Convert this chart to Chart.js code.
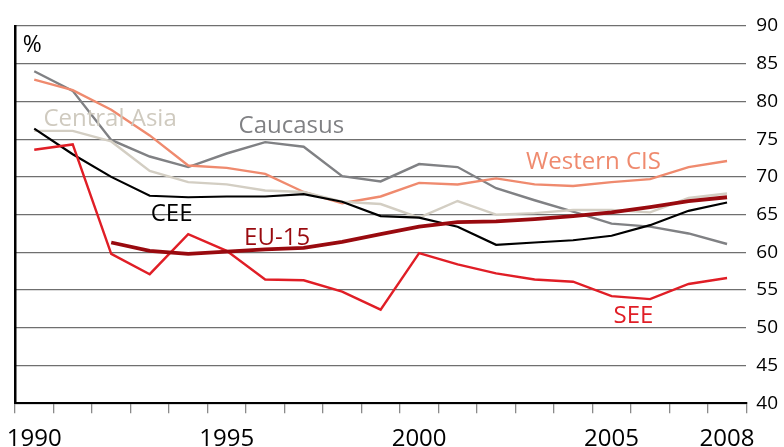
<!DOCTYPE html>
<html>
<head>
<meta charset="utf-8">
<script src="https://cdn.jsdelivr.net/npm/chart.js@4/dist/chart.umd.min.js"></script>
<style>
  html, body { margin: 0; padding: 0; background: #fff; overflow: hidden; }
  /* canvas is a bit larger than the window; the bottom/right overflow is cut like in the original */
  #wrap { width: 784px; height: 447px; overflow: hidden; }
</style>
</head>
<body>
<div id="wrap"><canvas id="myChart" width="794" height="466"></canvas></div>
<script>
const years = ['1990','1991','1992','1993','1994','1995','1996','1997','1998','1999',
               '2000','2001','2002','2003','2004','2005','2006','2007','2008'];
const shownYears = ['1990','1995','2000','2005','2008'];

const caucasus    = [84.0,81.4,74.9,72.7,71.3,73.1,74.6,74.0,70.1,69.4,71.7,71.3,68.5,66.9,65.4,63.8,63.4,62.5,61.1];
const westernCIS  = [82.9,81.5,78.9,75.5,71.5,71.2,70.4,68.0,66.5,67.4,69.2,69.0,69.8,69.0,68.8,69.3,69.7,71.3,72.1];
const centralAsia = [76.1,76.1,74.7,70.8,69.3,69.0,68.2,68.0,66.7,66.4,64.6,66.8,65.0,65.2,65.6,65.6,65.3,67.2,67.8];
const cee         = [76.4,73.0,70.0,67.5,67.3,67.4,67.4,67.7,66.7,64.8,64.6,63.4,61.0,61.3,61.6,62.2,63.6,65.5,66.6];
const eu15        = [null,null,61.3,60.2,59.8,60.1,60.4,60.6,61.4,62.4,63.4,64.0,64.1,64.4,64.8,65.3,66.0,66.8,67.3];
const see         = [73.6,74.3,59.8,57.1,62.4,60.2,56.4,56.3,54.8,52.4,59.9,58.4,57.2,56.4,56.1,54.2,53.8,55.8,56.6];

// series name labels, placed in data units (category index, value at text baseline)
const seriesLabels = [
  { text: 'Central Asia', x: 1.97,  y: 76.74, color: '#cfcabf' },
  { text: 'Caucasus',     x: 6.68,  y: 75.81, color: '#808184' },
  { text: 'CEE',          x: 3.57,  y: 64.14, color: '#000000' },
  { text: 'EU-15',        x: 6.31,  y: 60.96, color: '#990a0f' },
  { text: 'Western CIS',  x: 14.53, y: 71.03, color: '#ef8a6e' },
  { text: 'SEE',          x: 15.57, y: 50.61, color: '#e01e26' }
];

const FONT = "'Open Sans', sans-serif";

const labelPlugin = {
  id: 'seriesLabels',
  afterDatasetsDraw(chart) {
    const ctx = chart.ctx;
    const xs = chart.scales.x, ys = chart.scales.y;
    ctx.save();
    ctx.font = '24px ' + FONT;
    ctx.textAlign = 'center';
    ctx.textBaseline = 'alphabetic';
    seriesLabels.forEach(l => {
      ctx.fillStyle = l.color;
      ctx.fillText(l.text, xs.getPixelForValue(l.x), ys.getPixelForValue(l.y));
    });
    // unit label in the top-left corner
    ctx.fillStyle = '#000';
    ctx.font = '23px ' + FONT;
    ctx.fillText('%', xs.getPixelForValue(-0.05), ys.getPixelForValue(86.55));
    ctx.restore();
  }
};

const line = (data, color, width) => ({
  data: data,
  borderColor: color,
  backgroundColor: color,
  borderWidth: width,
  pointRadius: 0,
  tension: 0,
  spanGaps: false
});

new Chart(document.getElementById('myChart'), {
  type: 'line',
  data: {
    labels: years,
    datasets: [
      line(eu15, '#990a0f', 3.8),
      line(see, '#e01e26', 2.4),
      line(cee, '#000000', 2.2),
      line(centralAsia, '#d3cec3', 2.4),
      line(westernCIS, '#ef8a6e', 2.4),
      line(caucasus, '#808184', 2.4)
    ]
  },
  options: {
    responsive: false,
    animation: false,
    layout: { padding: { left: 15, right: 6, top: 26, bottom: 0 } },
    plugins: { legend: { display: false }, tooltip: { enabled: false } },
    scales: {
      x: {
        offset: true,
        grid: { offset: true, drawOnChartArea: false, drawTicks: true, tickLength: 10, color: '#8a8a8a', lineWidth: 1.3 },
        border: { color: '#000', width: 2 },
        ticks: {
          autoSkip: false, maxRotation: 0, padding: 3, color: '#000',
          font: { family: FONT, size: 24, lineHeight: 1.95 },
          callback: function (v) {
            const y = this.getLabelForValue(v);
            return shownYears.includes(y) ? y : '';
          }
        }
      },
      y: {
        position: 'right',
        min: 40, max: 90,
        grid: { color: '#6f6f6f', lineWidth: 1.2, drawTicks: false },
        border: { display: false },
        ticks: { stepSize: 5, padding: 10, color: '#000', font: { family: FONT, size: 19 } }
      },
      yl: {
        position: 'left',
        min: 40, max: 90,
        grid: { display: false, drawTicks: false },
        border: { color: '#000', width: 2.5 },
        ticks: { display: false }
      }
    }
  },
  plugins: [labelPlugin]
});
</script>
</body>
</html>
